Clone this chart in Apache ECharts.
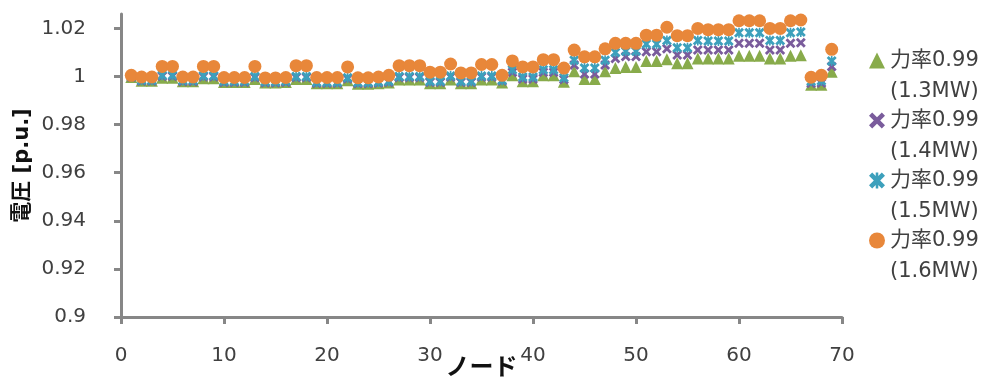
<!DOCTYPE html>
<html><head><meta charset="utf-8">
<script src="https://cdn.jsdelivr.net/npm/echarts@6/dist/echarts.min.js"></script>
<style>html,body{margin:0;padding:0;background:#fff}#c{width:993px;height:380px}</style>
</head><body><div id="c"></div>
<script>
const nodes = [1,2,3,4,5,6,7,8,9,10,11,12,13,14,15,16,17,18,19,20,21,22,23,24,25,26,27,28,29,30,31,32,33,34,35,36,37,38,39,40,41,42,43,44,45,46,47,48,49,50,51,52,53,54,55,56,57,58,59,60,61,62,63,64,65,66,67,68,69];
const seriesNames = ['力率0.99\n(1.3MW)','力率0.99\n(1.4MW)','力率0.99\n(1.5MW)','力率0.99\n(1.6MW)'];
const v13 = [0.9998,0.9982,0.9982,0.9995,0.9995,0.9980,0.9980,0.9993,0.9993,0.9977,
 0.9977,0.9977,0.9990,0.9975,0.9975,0.9977,0.9990,0.9990,0.9972,0.9972,
 0.9972,0.9985,0.9970,0.9970,0.9972,0.9975,0.9988,0.9988,0.9988,0.9972,
 0.9972,0.9988,0.9972,0.9972,0.9988,0.9988,0.9975,1.0005,0.9980,0.9980,
 1.0005,1.0005,0.9978,1.0022,0.9990,0.9990,1.0022,1.0035,1.0040,1.0040,
 1.0065,1.0065,1.0072,1.0055,1.0055,1.0075,1.0075,1.0075,1.0075,1.0086,
 1.0086,1.0086,1.0075,1.0075,1.0086,1.0088,0.9966,0.9966,1.0020];
const v14 = [0.9998,0.9981,0.9981,1.0001,1.0001,0.9979,0.9979,0.9999,0.9999,0.9976,
 0.9976,0.9976,0.9996,0.9974,0.9974,0.9976,0.9996,0.9996,0.9972,0.9972,
 0.9972,0.9991,0.9971,0.9971,0.9973,0.9976,0.9996,0.9996,0.9996,0.9976,
 0.9976,0.9998,0.9976,0.9976,0.9998,0.9998,0.9981,1.0018,0.9990,0.9990,
 1.0018,1.0018,0.9988,1.0048,1.0010,1.0010,1.0048,1.0075,1.0083,1.0083,
 1.0103,1.0103,1.0115,1.0090,1.0090,1.0110,1.0110,1.0110,1.0110,1.0138,
 1.0138,1.0138,1.0110,1.0110,1.0138,1.0140,0.9972,0.9973,1.0042];
const v15 = [1.0000,0.9985,0.9985,1.0005,1.0005,0.9983,0.9983,1.0003,1.0003,0.9980,
 0.9980,0.9980,1.0000,0.9978,0.9978,0.9980,1.0000,1.0000,0.9976,0.9976,
 0.9976,0.9995,0.9975,0.9975,0.9977,0.9980,1.0000,1.0000,1.0000,0.9980,
 0.9980,1.0002,0.9980,0.9980,1.0002,1.0002,0.9985,1.0028,0.9998,0.9998,
 1.0028,1.0028,0.9995,1.0068,1.0035,1.0035,1.0068,1.0100,1.0105,1.0105,
 1.0135,1.0135,1.0150,1.0120,1.0120,1.0150,1.0148,1.0148,1.0148,1.0182,
 1.0182,1.0182,1.0150,1.0150,1.0182,1.0185,0.9980,0.9982,1.0065];
const v16 = [1.0005,0.9998,0.9998,1.0042,1.0042,0.9998,0.9998,1.0042,1.0042,0.9996,
 0.9996,0.9996,1.0042,0.9994,0.9994,0.9996,1.0045,1.0045,0.9996,0.9996,
 0.9996,1.0040,0.9995,0.9995,0.9998,1.0005,1.0045,1.0045,1.0045,1.0018,
 1.0018,1.0052,1.0015,1.0015,1.0050,1.0050,1.0005,1.0065,1.0040,1.0040,
 1.0070,1.0070,1.0035,1.0110,1.0082,1.0082,1.0115,1.0138,1.0138,1.0138,
 1.0172,1.0172,1.0205,1.0170,1.0170,1.0200,1.0195,1.0195,1.0195,1.0232,
 1.0232,1.0232,1.0200,1.0200,1.0232,1.0235,0.9997,1.0005,1.0113];
const yTicks = [0.9, 0.92, 0.94, 0.96, 0.98, 1, 1.02];

const FONT = '"DejaVu Sans", "Noto Sans CJK JP", sans-serif';
const xMark = 'path://M0,2 L2,0 L5,3 L8,0 L10,2 L7,5 L10,8 L8,10 L5,7 L2,10 L0,8 L3,5 Z';
const starMark = 'path://M0,2 L2,0 L5,3 L8,0 L10,2 L7,5 L10,8 L8,10 L5,7 L2,10 L0,8 L3,5 Z M4.2,0 L5.8,0 L5.8,10 L4.2,10 Z';
const pair = arr => nodes.map((n, i) => [n, arr[i]]);

const chart = echarts.init(document.getElementById('c'), null, {renderer: 'canvas'});
chart.setOption({
  animation: false,
  backgroundColor: '#fff',
  grid: {left: 121, right: 151, top: 14, bottom: 63, containLabel: false, outerBoundsMode: 'none'},
  xAxis: {
    type: 'value', min: 0, max: 70, interval: 10,
    name: 'ノード', nameLocation: 'middle', nameGap: 40, nameMoveOverlap: false,
    nameTextStyle: {fontFamily: FONT, fontSize: 24, fontWeight: 'bold', color: '#111'},
    axisLine: {show: true, lineStyle: {color: '#878787', width: 3}},
    axisTick: {show: true, length: 7, lineStyle: {color: '#878787', width: 3}},
    axisLabel: {fontFamily: FONT, fontSize: 20, color: '#404040', margin: 29},
    splitLine: {show: false}
  },
  yAxis: {
    type: 'value', min: 0.9, max: 1.026,
    name: '電圧 [p.u.]', nameLocation: 'middle', nameGap: 88, nameMoveOverlap: false,
    nameTextStyle: {fontFamily: FONT, fontSize: 21, fontWeight: 'bold', color: '#111'},
    axisLine: {show: true, lineStyle: {color: '#878787', width: 3}},
    axisTick: {show: true, length: 7, customValues: yTicks, lineStyle: {color: '#878787', width: 3}},
    axisLabel: {fontFamily: FONT, fontSize: 20, color: '#404040', margin: 35, customValues: yTicks,
      formatter: v => String(parseFloat(v.toFixed(2)))},
    splitLine: {show: false}
  },
  legend: {
    orient: 'vertical', left: 864, top: 9, itemGap: -33,
    itemWidth: 16, itemHeight: 16,
    formatter: n => ' \n' + n,
    textStyle: {fontFamily: FONT, fontSize: 21, color: '#404040', lineHeight: 31},
    data: seriesNames
  },
  series: [
    {name: seriesNames[0], type: 'scatter', data: pair(v13), symbol: 'triangle', symbolSize: 12, itemStyle: {color: '#88AB4B', opacity: 1}},
    {name: seriesNames[1], type: 'scatter', data: pair(v14), symbol: xMark, symbolSize: 10, itemStyle: {color: '#7A5C9C', opacity: 1}},
    {name: seriesNames[2], type: 'scatter', data: pair(v15), symbol: starMark, symbolSize: 10, itemStyle: {color: '#3DA0BC', opacity: 1}},
    {name: seriesNames[3], type: 'scatter', data: pair(v16), symbol: 'circle', symbolSize: 13, itemStyle: {color: '#E8873A', opacity: 1}}
  ]
});
</script>
</body></html>
